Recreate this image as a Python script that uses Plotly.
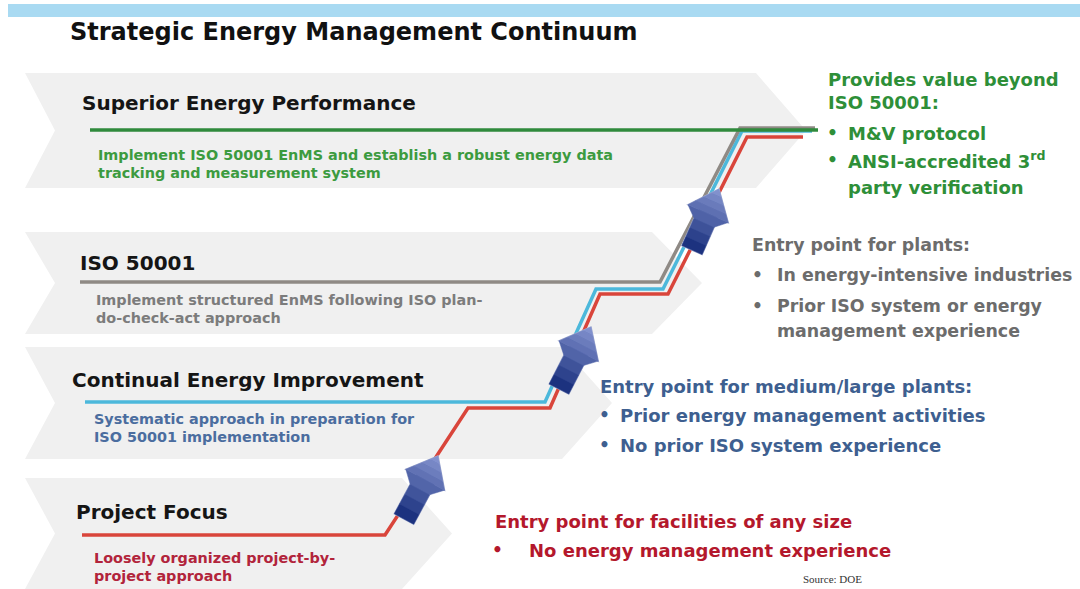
import plotly.graph_objects as go

W, H = 1080, 589
FONT = "DejaVu Sans, Liberation Sans, Arial, sans-serif"

title = "Strategic Energy Management Continuum"
source = "Source: DOE"

# the four levels of the continuum, top to bottom
levels = ["Superior Energy Performance", "ISO 50001",
          "Continual Energy Improvement", "Project Focus"]
descriptions = [
    ["Implement ISO 50001 EnMS and establish a robust energy data",
     "tracking and measurement system"],
    ["Implement structured EnMS following ISO plan-",
     "do-check-act approach"],
    ["Systematic approach in preparation for",
     "ISO 50001 implementation"],
    ["Loosely organized project-by-",
     "project approach"],
]
line_colors = ["#2f8a3c", "#8f8a85", "#4cb8db", "#d9453b"]
desc_colors = ["#3c9b3f", "#7c7c7c", "#4b6d9f", "#b2243b"]

# band layout (picture pixels)
band_top = [73, 232, 347, 478]
band_bottom = [188, 334, 459, 589]
band_tip = [806, 702, 612, 452]
heading_x = [80, 78, 70, 74]
heading_y = [103, 263, 380, 512]
desc_x = [96, 94, 92, 92]
desc_y = [155, 300, 419, 558]

# staircase paths, one per level colour
stair_x = [
    [82, 385, 468, 550, 600, 668, 747, 803],
    [85, 545, 596, 663, 742, 812],
    [80, 660, 740, 815],
    [90, 818],
]
stair_y = [
    [535, 535, 408, 408, 294, 294, 137, 137],
    [402, 402, 289, 289, 131, 131],
    [282, 282, 128, 128],
    [130, 130],
]
stair_colors = [line_colors[3], line_colors[2], line_colors[1], line_colors[0]]

# the blue arrows climbing the stairs
arrow_tail = [(404, 519), (559, 389), (692, 250)]
arrow_tip = [(438, 456), (591, 327), (719, 189)]

# notes on the right
note_lines = [
    ["Provides value beyond", "ISO 50001:", "M&V protocol",
     "ANSI-accredited 3<sup>rd</sup>", "party verification"],
    ["Entry point for plants:", "In energy-intensive industries",
     "Prior ISO system or energy", "management experience"],
    ["Entry point for medium/large plants:",
     "Prior energy management activities",
     "No prior ISO system experience"],
    ["Entry point for facilities of any size",
     "No energy management experience"],
]
note_bullet = [[0, 0, 1, 1, 0], [0, 1, 1, 0], [0, 1, 1], [0, 1]]
note_indent = [[0, 0, 1, 1, 1], [0, 1, 1, 1], [0, 1, 1], [0, 1]]
note_y = [[79, 102, 133, 160, 187], [245, 275, 306, 331],
          [386, 415, 445], [521, 550]]
note_x = [826, 750, 598, 493]
bullet_x = [832, 757, 604, 497]
indent_x = [846, 775, 618, 527]
note_size = [18, 17.4, 18, 18]
note_colors = ["#2e8f38", "#6c6c6c", "#3e5f90", "#b4182c"]

fig = go.Figure()

shapes = []
# top blue strip
shapes.append(dict(type="rect", x0=8, x1=W, y0=4, y1=17, layer="below",
                   fillcolor="#a9daf2", line=dict(width=0)))

# chevron bands
for t, b, tip in zip(band_top, band_bottom, band_tip):
    m = (t + b) / 2
    p = 50
    pts = [(25, t), (tip - p, t), (tip, m), (tip - p, b), (25, b), (55, m)]
    path = "M " + " L ".join(f"{x},{y}" for x, y in pts) + " Z"
    shapes.append(dict(type="path", path=path, layer="below",
                       fillcolor="#f0f0f0", line=dict(width=0)))


def lerp(c1, c2, f):
    a = [int(c1[i:i + 2], 16) for i in (1, 3, 5)]
    b = [int(c2[i:i + 2], 16) for i in (1, 3, 5)]
    return "#" + "".join(f"{round(a[i] + (b[i] - a[i]) * f):02x}" for i in range(3))


# block arrows with a simple dark-to-light gradient
for (tx, ty), (hx, hy) in zip(arrow_tail, arrow_tip):
    L = ((hx - tx) ** 2 + (hy - ty) ** 2) ** 0.5
    ux, uy = (hx - tx) / L, (hy - ty) / L
    nx, ny = -uy, ux
    hl, hw, bw = 27, 22, 11

    def pt(s, w):
        return (tx + ux * s + nx * w, ty + uy * s + ny * w)

    def half(s):
        return bw if s < L - hl else hw * (L - s) / hl

    outline = [pt(0, -bw), pt(L - hl, -bw), pt(L - hl, -hw), pt(L, 0),
               pt(L - hl, hw), pt(L - hl, bw), pt(0, bw)]
    path = "M " + " L ".join(f"{x:.1f},{y:.1f}" for x, y in outline) + " Z"
    shapes.append(dict(type="path", path=path, layer="above",
                       fillcolor="#1c3888", line=dict(color="#aab3d4", width=1.5)))
    cuts = [i * (L - hl) / 4 for i in range(4)] + [L - hl + 0.01] + \
           [L - hl + hl * k / 4 for k in range(1, 4)] + [L]
    for i in range(len(cuts) - 1):
        s0, s1 = cuts[i], cuts[i + 1]
        w0, w1 = half(s0 + 0.001), half(s1 - 0.001)
        poly = [pt(s0, -w0), pt(s1, -w1), pt(s1, w1), pt(s0, w0)]
        f = (s0 + s1) / 2 / L
        col = lerp("#132a78", "#8796d2", f)
        path = "M " + " L ".join(f"{x:.1f},{y:.1f}" for x, y in poly) + " Z"
        shapes.append(dict(type="path", path=path, layer="above",
                           fillcolor=col, line=dict(color=col, width=0.5)))

# staircase lines
for xs, ys, c in zip(stair_x, stair_y, stair_colors):
    fig.add_trace(go.Scatter(x=xs, y=ys, mode="lines", hoverinfo="skip",
                             line=dict(color=c, width=3.5), showlegend=False))

ann = []
ann.append(dict(x=68, y=32, text="<b>" + title + "</b>", showarrow=False,
                xanchor="left", yanchor="middle",
                font=dict(family=FONT, size=24, color="#111111")))

for i, name in enumerate(levels):
    ann.append(dict(x=heading_x[i], y=heading_y[i], text="<b>" + name + "</b>",
                    showarrow=False, xanchor="left", yanchor="middle",
                    font=dict(family=FONT, size=20, color="#151515")))
    for k, line in enumerate(descriptions[i]):
        ann.append(dict(x=desc_x[i], y=desc_y[i] + 18 * k, text="<b>" + line + "</b>",
                        showarrow=False, xanchor="left", yanchor="middle",
                        font=dict(family=FONT, size=14.4, color=desc_colors[i])))

for i, lines in enumerate(note_lines):
    for k, line in enumerate(lines):
        x = indent_x[i] if note_indent[i][k] else note_x[i]
        ann.append(dict(x=x, y=note_y[i][k], text="<b>" + line + "</b>",
                        showarrow=False, xanchor="left", yanchor="middle",
                        font=dict(family=FONT, size=note_size[i], color=note_colors[i])))
        if note_bullet[i][k]:
            ann.append(dict(x=bullet_x[i], y=note_y[i][k], text="<b>•</b>",
                            showarrow=False, xanchor="center", yanchor="middle",
                            font=dict(family=FONT, size=17, color=note_colors[i])))

ann.append(dict(x=832, y=579, text=source, showarrow=False,
                xanchor="center", yanchor="middle",
                font=dict(family="Liberation Serif, Times New Roman, serif",
                          size=11, color="#333333")))

fig.update_layout(
    width=W, height=H,
    margin=dict(l=0, r=0, t=0, b=0),
    paper_bgcolor="white", plot_bgcolor="white",
    xaxis=dict(range=[0, W], visible=False, fixedrange=True),
    yaxis=dict(range=[H, 0], visible=False, fixedrange=True),
    shapes=shapes, annotations=ann,
)

fig.write_html("out.html", config={"displayModeBar": False},
               post_script="document.body.style.margin='0';document.body.style.overflow='hidden';")
